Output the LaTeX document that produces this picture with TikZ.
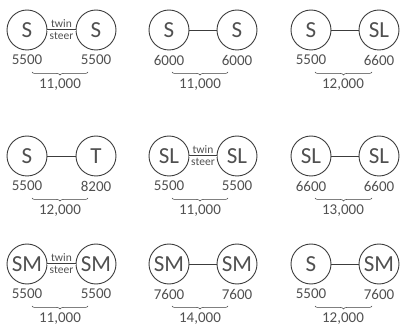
\documentclass[tikz,border=0pt]{standalone}
\usepackage{fontspec}
\setmainfont{Carlito}
\usetikzlibrary{decorations.pathreplacing}

\definecolor{ringgray}{HTML}{3C3C3C}
\definecolor{textgray}{HTML}{505050}

\tikzset{
  axle/.style={circle, draw=ringgray, line width=0.9pt, minimum size=40pt, inner sep=0pt,
    text=textgray, font=\fontsize{23}{23}\selectfont},
  load/.style={text=textgray, font=\fontsize{15}{15}\selectfont, inner sep=0pt},
  total/.style={load},
  link/.style={draw=ringgray, line width=0.9pt},
  twinlink/.style={draw=ringgray, line width=0.5pt, double, double distance=0.8pt},
  twinnote/.style={text=textgray, font=\fontsize{11.5}{11.5}\selectfont, inner sep=0pt},
  span/.style={draw=ringgray, line width=0.5pt, decorate, decoration={brace, mirror, amplitude=3pt}}
}

\begin{document}
\begin{tikzpicture}[x=1pt, y=-1pt]
  \useasboundingbox (0,0) rectangle (400,329);

  % row 1
  \node[axle] (p1l) at (27,30) {S};
  \node[axle] (p1r) at (96,30) {S};
  \draw[twinlink] (p1l) -- node[twinnote, above=2pt] {twin} node[twinnote, below=2pt] {steer} (p1r);
  \node[load] (n1l) at (27,60) {5500};
  \node[load] (n1r) at (96,60) {5500};
  \coordinate (b1l) at (32,72);
  \coordinate (b1r) at (88,72);
  \draw[span] (b1l) -- (b1r);
  \node[total] (t1) at (60,85) {11,000};

  \node[axle] (p2l) at (169,30) {S};
  \node[axle] (p2r) at (237,30) {S};
  \draw[link] (p2l) -- (p2r);
  \node[load] (n2l) at (169,60) {6000};
  \node[load] (n2r) at (237,60) {6000};
  \coordinate (b2l) at (172,72);
  \coordinate (b2r) at (228,72);
  \draw[span] (b2l) -- (b2r);
  \node[total] (t2) at (200,85) {11,000};

  \node[axle] (p3l) at (311,30) {S};
  \node[axle] (p3r) at (379,30) {SL};
  \draw[link] (p3l) -- (p3r);
  \node[load] (n3l) at (311,60) {5500};
  \node[load] (n3r) at (379,60) {6600};
  \coordinate (b3l) at (315,72);
  \coordinate (b3r) at (372,72);
  \draw[span] (b3l) -- (b3r);
  \node[total] (t3) at (343,85) {12,000};

  % row 2
  \node[axle] (p4l) at (27,156) {S};
  \node[axle] (p4r) at (96,156) {T};
  \draw[link] (p4l) -- (p4r);
  \node[load] (n4l) at (27,186) {5500};
  \node[load] (n4r) at (96,186) {8200};
  \coordinate (b4l) at (32,198);
  \coordinate (b4r) at (88,198);
  \draw[span] (b4l) -- (b4r);
  \node[total] (t4) at (60,211) {12,000};

  \node[axle] (p5l) at (169,156) {SL};
  \node[axle] (p5r) at (237,156) {SL};
  \draw[twinlink] (p5l) -- node[twinnote, above=2pt] {twin} node[twinnote, below=2pt] {steer} (p5r);
  \node[load] (n5l) at (169,186) {5500};
  \node[load] (n5r) at (237,186) {5500};
  \coordinate (b5l) at (172,198);
  \coordinate (b5r) at (228,198);
  \draw[span] (b5l) -- (b5r);
  \node[total] (t5) at (200,211) {11,000};

  \node[axle] (p6l) at (311,156) {SL};
  \node[axle] (p6r) at (379,156) {SL};
  \draw[link] (p6l) -- (p6r);
  \node[load] (n6l) at (311,186) {6600};
  \node[load] (n6r) at (379,186) {6600};
  \coordinate (b6l) at (315,198);
  \coordinate (b6r) at (372,198);
  \draw[span] (b6l) -- (b6r);
  \node[total] (t6) at (343,211) {13,000};

  % row 3
  \node[axle] (p7l) at (27,264) {SM};
  \node[axle] (p7r) at (96,264) {SM};
  \draw[twinlink] (p7l) -- node[twinnote, above=2pt] {twin} node[twinnote, below=2pt] {steer} (p7r);
  \node[load] (n7l) at (27,294) {5500};
  \node[load] (n7r) at (96,294) {5500};
  \coordinate (b7l) at (32,306);
  \coordinate (b7r) at (88,306);
  \draw[span] (b7l) -- (b7r);
  \node[total] (t7) at (60,319) {11,000};

  \node[axle] (p8l) at (169,264) {SM};
  \node[axle] (p8r) at (237,264) {SM};
  \draw[link] (p8l) -- (p8r);
  \node[load] (n8l) at (169,294) {7600};
  \node[load] (n8r) at (237,294) {7600};
  \coordinate (b8l) at (172,306);
  \coordinate (b8r) at (228,306);
  \draw[span] (b8l) -- (b8r);
  \node[total] (t8) at (200,319) {14,000};

  \node[axle] (p9l) at (311,264) {S};
  \node[axle] (p9r) at (379,264) {SM};
  \draw[link] (p9l) -- (p9r);
  \node[load] (n9l) at (311,294) {5500};
  \node[load] (n9r) at (379,294) {7600};
  \coordinate (b9l) at (315,306);
  \coordinate (b9r) at (372,306);
  \draw[span] (b9l) -- (b9r);
  \node[total] (t9) at (343,319) {12,000};
\end{tikzpicture}
\end{document}
